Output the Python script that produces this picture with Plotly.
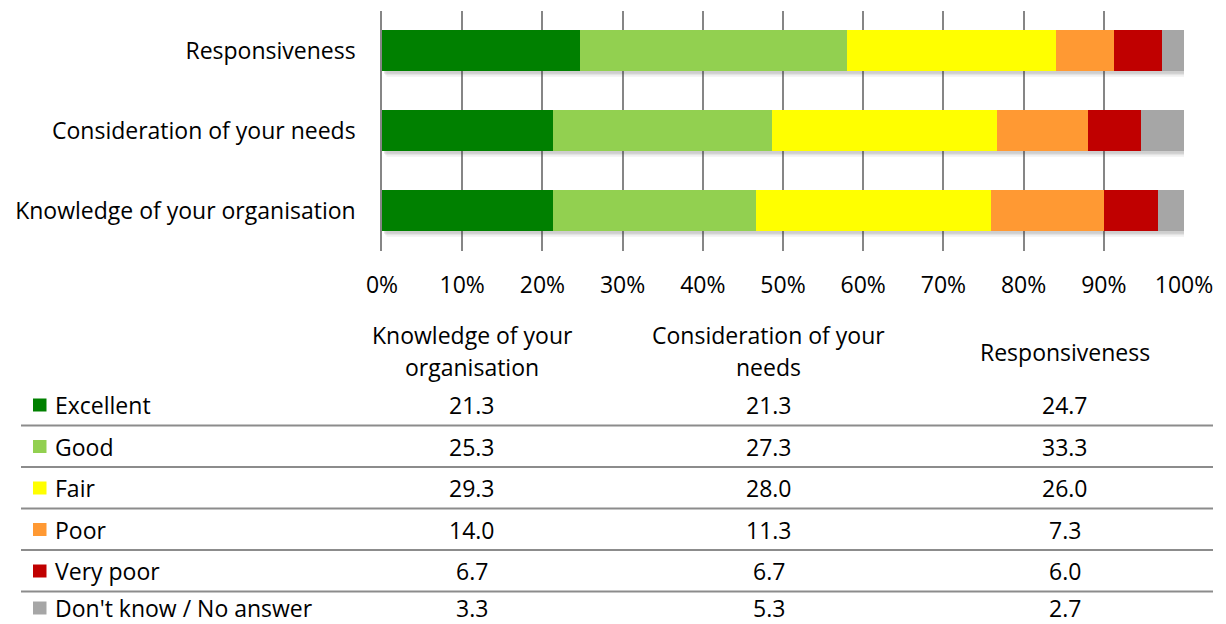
import plotly.graph_objects as go

# Survey ratings per aspect of service (percent of respondents)
aspects = ["Knowledge of your organisation", "Consideration of your needs", "Responsiveness"]
header_lines = [["Knowledge of your", "organisation"], ["Consideration of your", "needs"], ["Responsiveness"]]
ratings = ["Excellent", "Good", "Fair", "Poor", "Very poor", "Don't know / No answer"]
excellent = [21.3, 21.3, 24.7]
good = [25.3, 27.3, 33.3]
fair = [29.3, 28.0, 26.0]
poor = [14.0, 11.3, 7.3]
very_poor = [6.7, 6.7, 6.0]
dont_know = [3.3, 5.3, 2.7]
series = [excellent, good, fair, poor, very_poor, dont_know]
colors = ["#008000", "#92D050", "#FFFF00", "#FF9933", "#C00000", "#A6A6A6"]
tick_vals = [0, 10, 20, 30, 40, 50, 60, 70, 80, 90, 100]
tick_text = [f"{v}%" for v in tick_vals]

W, H = 1226, 624
FONT = "Open Sans, sans-serif"
FS = 23
TXT = "#000000"
BAR_W = 0.51


def px(x):
    return x / W


def py(y):
    return 1 - y / H


fig = go.Figure()

for name, vals, col in zip(ratings, series, colors):
    fig.add_trace(go.Bar(
        y=aspects, x=vals, name=name, orientation="h",
        marker=dict(color=col, line=dict(width=0)), width=BAR_W,
        showlegend=False,
    ))

# soft drop shadow behind each bar, sized to the normalised (100 %) stack
for i in range(len(aspects)):
    for dy, dx, op in [(0.075, 0.55, 0.06), (0.055, 0.4, 0.09), (0.035, 0.25, 0.12)]:
        fig.add_shape(type="rect", xref="x", yref="y", layer="between",
                      x0=dx, x1=100 + dx,
                      y0=i - BAR_W / 2 - dy, y1=i + BAR_W / 2 - dy,
                      fillcolor=f"rgba(60,60,60,{op})", line=dict(width=0))

fig.update_layout(
    width=W, height=H,
    margin=dict(l=0, r=0, t=0, b=0, autoexpand=False),
    paper_bgcolor="white", plot_bgcolor="white",
    barmode="stack", barnorm="percent",
    font=dict(family=FONT, size=FS, color=TXT),
    xaxis=dict(
        domain=[px(382), px(1184)], range=[0, 100],
        tickvals=tick_vals, ticktext=tick_text,
        showgrid=True, gridcolor="#868686", gridwidth=1.5,
        zeroline=False, showline=False, automargin=False,
        ticks="outside", ticklen=0, ticklabelstandoff=14,
        tickfont=dict(size=FS, family=FONT, color=TXT),
        fixedrange=True,
    ),
    yaxis=dict(
        domain=[py(250.5), py(10.5)], range=[-0.5, 2.5],
        categoryorder="array", categoryarray=aspects,
        showgrid=False, zeroline=False, automargin=False,
        showline=True, linecolor="#868686", linewidth=1.5,
        ticks="", ticklabelstandoff=20,
        tickfont=dict(size=FS, family=FONT, color=TXT),
        fixedrange=True,
    ),
)

# data table under the chart
col_centers = [472, 768.5, 1065]
row_y = [405, 446.5, 488, 529.5, 571, 608]
sep_y = [425.5, 467, 508.5, 550, 591.5]


def text_at(x, y, s, anchor="center"):
    fig.add_annotation(x=px(x), y=py(y), xref="paper", yref="paper",
                       text=s, showarrow=False, xanchor=anchor, yanchor="middle",
                       borderpad=0,
                       font=dict(size=FS, family=FONT, color=TXT))


for cx, lines in zip(col_centers, header_lines):
    if len(lines) == 1:
        text_at(cx, 352, lines[0])
    else:
        text_at(cx, 335, lines[0])
        text_at(cx, 367, lines[1])

for i, (name, vals, col) in enumerate(zip(ratings, series, colors)):
    yc = row_y[i]
    fig.add_shape(type="rect", xref="paper", yref="paper",
                  x0=px(33), x1=px(46.5), y0=py(yc - 6.5), y1=py(yc + 6.5),
                  fillcolor=col, line=dict(width=0))
    text_at(54, yc, name, anchor="left")
    for cx, v in zip(col_centers, vals):
        text_at(cx, yc, f"{v:.1f}")

for ys in sep_y:
    fig.add_shape(type="line", xref="paper", yref="paper",
                  x0=px(21), x1=px(1213), y0=py(ys), y1=py(ys),
                  line=dict(color="#8c8c8c", width=2))

fig.write_html("out.html")
